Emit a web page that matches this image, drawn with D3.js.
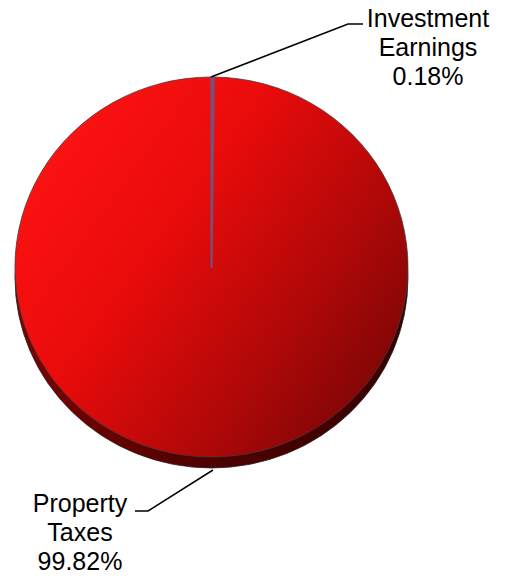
<!DOCTYPE html>
<html>
<head>
<meta charset="utf-8">
<script src="https://cdn.jsdelivr.net/npm/d3@7"></script>
<style>
  html, body { margin: 0; padding: 0; background: #fff; }
  svg { display: block; }
  text { font-family: "Liberation Sans", Arial, sans-serif; fill: #000; }
</style>
</head>
<body>
<svg id="chart" width="505" height="580"></svg>
<script>
// Revenue share by source
const categories = ["Investment Earnings", "Property Taxes"];
const labelLines = [["Investment", "Earnings"], ["Property", "Taxes"]];
const values = [0.18, 99.82];

const W = 505, H = 580;
const cx = 211.5, cy = 267, rx = 196.5, ry = 190, depth = 11;
const svg = d3.select("#chart");
const defs = svg.append("defs");

// Face shading: bright red on the left fading to deep red bottom-right
const grad = defs.append("linearGradient").attr("id", "faceGrad")
  .attr("gradientUnits", "userSpaceOnUse")
  .attr("x1", -rx).attr("y1", -rx * 0.6).attr("x2", rx).attr("y2", rx * 0.8);
grad.append("stop").attr("offset", "0%").attr("stop-color", "#ff1313");
grad.append("stop").attr("offset", "35%").attr("stop-color", "#ea0b0b");
grad.append("stop").attr("offset", "68%").attr("stop-color", "#b00808");
grad.append("stop").attr("offset", "100%").attr("stop-color", "#6e0505");

const sideGrad = defs.append("linearGradient").attr("id", "sideGrad")
  .attr("x1", 0).attr("y1", 0).attr("x2", 1).attr("y2", 0);
sideGrad.append("stop").attr("offset", "0%").attr("stop-color", "#7a0202");
sideGrad.append("stop").attr("offset", "50%").attr("stop-color", "#4e0101");
sideGrad.append("stop").attr("offset", "100%").attr("stop-color", "#360000");

const sliceFill = ["#7b4478", "url(#faceGrad)"];
const sliceStroke = ["#74507a", "#4a3a3a"];

const pie = d3.pie().sort(null).value(d => d)(values);
const arc = d3.arc().innerRadius(0).outerRadius(rx);

// Side (thickness) of the tilted disc
svg.append("ellipse")
  .attr("cx", cx).attr("cy", cy + depth).attr("rx", rx).attr("ry", ry)
  .attr("fill", "url(#sideGrad)")
  .attr("stroke", "#2e2020").attr("stroke-width", 0.8);

// Top face, drawn as a circle pie squashed vertically
const face = svg.append("g")
  .attr("transform", `translate(${cx},${cy}) scale(1,${ry / rx})`);
face.selectAll("path.slice")
  .data(pie.slice().reverse())
  .join("path")
  .attr("class", "slice")
  .attr("d", arc)
  .attr("fill", d => sliceFill[d.index])
  .attr("stroke", d => sliceStroke[d.index])
  .attr("stroke-width", d => d.index === 0 ? 2.2 : 0.8)
  .attr("stroke-linejoin", "round");

// Leader lines
const leaders = [
  [[211, 77], [348, 24], [363, 24]],
  [[213, 470], [148, 511], [135, 511]]
];
svg.selectAll("path.leader")
  .data(leaders)
  .join("path")
  .attr("class", "leader")
  .attr("d", d3.line())
  .attr("fill", "none")
  .attr("stroke", "#000")
  .attr("stroke-width", 1.5);

// Labels: name lines followed by percentage
const labelAnchors = [[428, 27], [80, 512]];
const fmt = d3.format(".2f");
const lineGap = 29;
labelAnchors.forEach((p, i) => {
  const lines = labelLines[i].concat([fmt(values[i]) + "%"]);
  const t = svg.append("text")
    .attr("text-anchor", "middle")
    .attr("font-size", 25);
  lines.forEach((s, j) => {
    t.append("tspan").attr("x", p[0]).attr("y", p[1] + j * lineGap).text(s);
  });
});
</script>
</body>
</html>
